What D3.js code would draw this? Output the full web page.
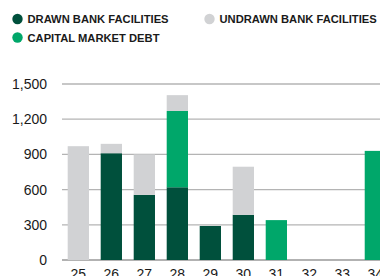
<!DOCTYPE html>
<html>
<head>
<meta charset="utf-8">
<script src="https://cdn.jsdelivr.net/npm/d3@7"></script>
<style>
  body { margin: 0; background: #fff; }
  svg { display: block; font-family: "Liberation Sans", Arial, sans-serif; }
</style>
</head>
<body>
<svg id="chart"></svg>
<script>
const width = 380;
const height = 276;

// Data
const years = ["25", "26", "27", "28", "29", "30", "31", "32", "33", "34"];
const drawn = [0, 910, 555, 620, 290, 385, 0, 0, 0, 0];
const capital = [0, 0, 0, 650, 0, 0, 340, 0, 0, 930];
const undrawn = [970, 80, 345, 135, 0, 410, 0, 0, 0, 0];
const yTicks = [0, 300, 600, 900, 1200, 1500];

const seriesKeys = ["drawn", "capital", "undrawn"];
const seriesNames = {
    drawn: "DRAWN BANK FACILITIES",
    undrawn: "UNDRAWN BANK FACILITIES",
    capital: "CAPITAL MARKET DEBT"
};
const colors = { drawn: "#00503c", capital: "#00a76a", undrawn: "#d1d2d4" };

const svg = d3.select("#chart")
    .attr("width", width)
    .attr("height", height);

const rows = years.map((y, i) => ({ year: y, drawn: drawn[i], capital: capital[i], undrawn: undrawn[i] }));

const x = d3.scaleBand()
    .domain(years)
    .range([57.8, 395.9])
    .paddingInner(0.355)
    .paddingOuter(0.3);

const y = d3.scaleLinear()
    .domain([0, 1500])
    .range([260, 84]);

// gridlines
svg.append("g")
    .selectAll("line")
    .data(yTicks)
    .join("line")
    .attr("x1", 62)
    .attr("x2", width)
    .attr("y1", d => y(d))
    .attr("y2", d => y(d))
    .attr("stroke", d => d === 0 ? "#999" : "#b4b4b4")
    .attr("stroke-width", 1.3);

// y tick labels
svg.append("g")
    .selectAll("text")
    .data(yTicks)
    .join("text")
    .attr("x", 47)
    .attr("y", d => y(d) + 5)
    .attr("text-anchor", "end")
    .attr("font-size", 14)
    .attr("fill", "#1a1a1a")
    .text(d => d3.format(",")(d));

// stacked bars
const stack = d3.stack().keys(seriesKeys)(rows);

svg.append("g")
    .selectAll("g")
    .data(stack)
    .join("g")
    .attr("fill", d => colors[d.key])
    .selectAll("rect")
    .data(d => d.filter(s => s[1] > s[0]))
    .join("rect")
    .attr("x", d => x(d.data.year))
    .attr("width", x.bandwidth())
    .attr("y", d => y(d[1]))
    .attr("height", d => y(d[0]) - y(d[1]));

// x labels (cut off at bottom edge like the original)
svg.append("g")
    .selectAll("text")
    .data(years)
    .join("text")
    .attr("x", d => x(d) + x.bandwidth() / 2)
    .attr("y", 279)
    .attr("text-anchor", "middle")
    .attr("font-size", 14)
    .attr("fill", "#1a1a1a")
    .text(d => d);

// legend
const legendItems = [
    { key: "drawn", cx: 17.5, cy: 19 },
    { key: "undrawn", cx: 209.5, cy: 19 },
    { key: "capital", cx: 17.5, cy: 37.5 }
];

const legend = svg.append("g")
    .selectAll("g")
    .data(legendItems)
    .join("g");

legend.append("circle")
    .attr("cx", d => d.cx)
    .attr("cy", d => d.cy)
    .attr("r", 5.2)
    .attr("fill", d => colors[d.key]);

legend.append("text")
    .attr("x", d => d.cx + 10)
    .attr("y", d => d.cy + 4)
    .attr("font-size", 11.2)
    .attr("font-weight", "bold")
    .attr("fill", "#1a1a1a")
    .text(d => seriesNames[d.key]);
</script>
</body>
</html>
